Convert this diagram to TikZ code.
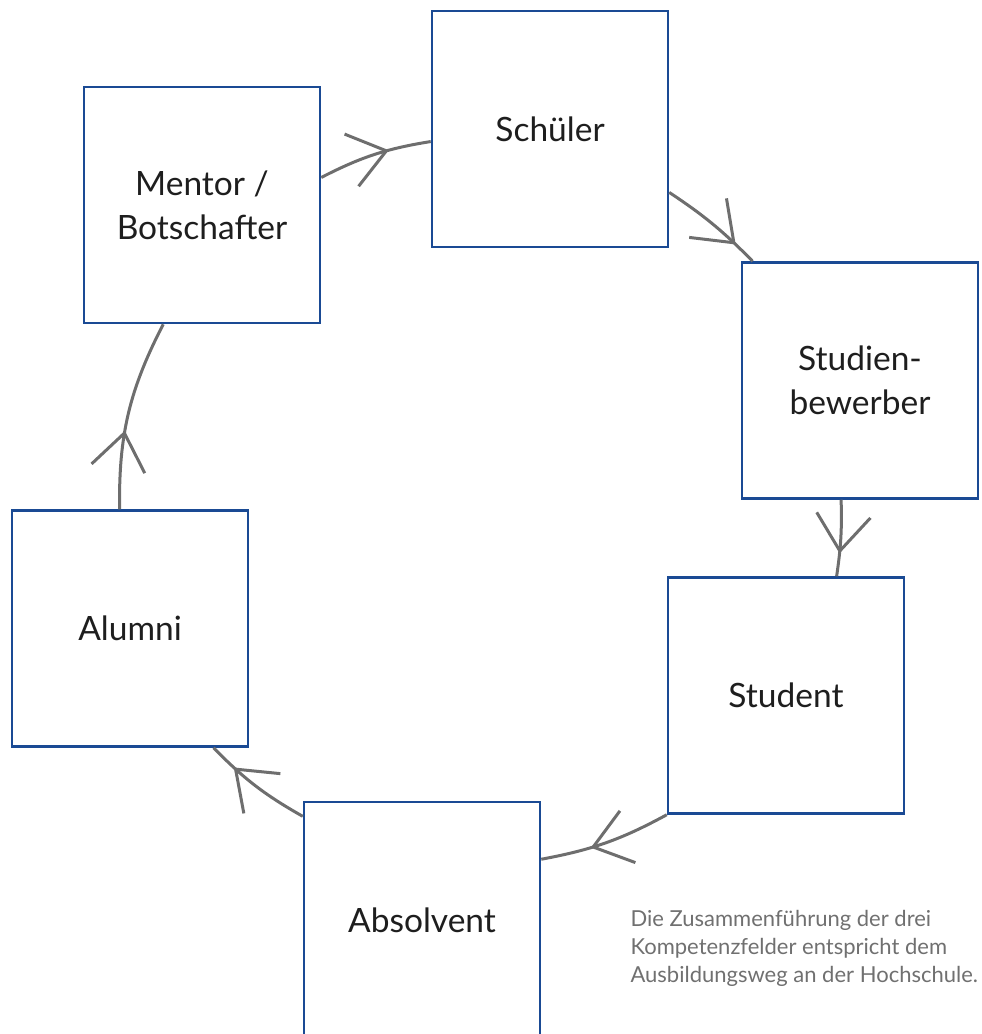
\documentclass[tikz,border=0pt]{standalone}
\usepackage{fontspec}
\setmainfont{Lato}
\usetikzlibrary{arrows.meta, decorations.markings}
\definecolor{hsblue}{HTML}{1A4A94}
\definecolor{flowgray}{HTML}{6E6E6E}
\definecolor{inkblack}{HTML}{1E1E1E}
\definecolor{notegray}{HTML}{707070}

\begin{document}
\begin{tikzpicture}[x=1pt, y=-1pt,
  station/.style={draw=hsblue, line width=2.5pt, minimum width=236pt, minimum height=236pt,
    inner sep=0pt, align=center, text=inkblack, font=\fontsize{33.5}{44}\selectfont},
  flow/.style={flowgray, line width=3pt,
    postaction={decorate, decoration={markings,
      mark=at position #1 with {\arrow{Straight Barb[length=36pt, width=54pt]}}}}}]

% Frame of the picture
\useasboundingbox (0,0) rectangle (982,1034);
\clip (0,0) rectangle (982,1034);

% Stations of the cycle
\node[station] (schueler) at (550,129) {Schüler};
\node[station] (mentor) at (202,205) {Mentor /\\Botschafter};
\node[station] (bewerber) at (860,380.5) {Studien-\\bewerber};
\node[station] (student) at (786,695.5) {Student};
\node[station] (alumni) at (130,628.5) {Alumni};
\node[station] (absolvent) at (422,920) {Absolvent};

% Connectors, clockwise
\draw[flow=0.63] (mentor.13) to[bend left=9] (schueler.186);
\draw[flow=0.78] (schueler.332.3) to[bend left=6] (bewerber.132.6);
\draw[flow=0.70] (bewerber.261.3) to[bend left=5] (student.67.4);
\draw[flow=0.62] (student.south west) to[bend left=9] (absolvent.27.7);
\draw[flow=0.75] (absolvent.139.2) to[bend left=8] (alumni.305.9);
\draw[flow=0.41] (alumni.95.8) to[bend left=14] (mentor.252.2);

% Note
\node[anchor=west, align=left, text=notegray, font=\fontsize{22}{28}\selectfont]
  (note) at (627,948) {Die Zusammenführung der drei\\Kompetenzfelder entspricht dem\\Ausbildungsweg an der Hochschule.};

\end{tikzpicture}
\end{document}
